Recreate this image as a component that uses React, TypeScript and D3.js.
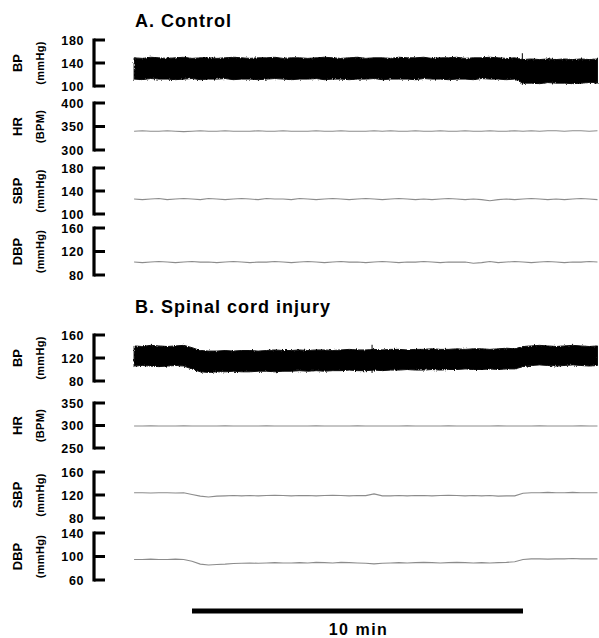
import React from "react";
import * as d3 from "d3";

// ---------- DATA ----------
// Samples every 0.25 min, starting 1.75 min before the 10-min period.
const SAMPLE_START = -1.75;
const SAMPLE_STEP = 0.25;

// Panel A (Control)
const aBpHi = [149,148,150,149,148,149,150,148,149,149, 148,149,150,149,148,149,149,150,148,149, 149,148,149,150,149,148,149,150,148,149, 149,148,150,149,149,150,148,149,149,150, 148,149,149,150,149,148,149, 146,147,146,147,146,147,146,147,146,147];
const aBpLo = [112,111,113,112,112,111,112,113,111,112, 112,113,111,112,112,111,112,113,112,111, 112,112,113,111,112,112,111,112,112,113, 111,112,112,112,111,113,112,112,111,112, 112,111,113,112,112,111,112, 105,105,104,106,105,105,104,105,106,105];
const aHr = [340,341,340,340,341,340,339,340,341,340, 340,341,340,340,340,341,340,340,341,340, 340,340,341,340,340,341,340,340,340,341, 340,341,340,340,341,340,340,341,340,340, 341,340,340,341,340,340,341,340,341,340, 341,341,340,341,341,340,341];
const aSbp = [126,125,126,127,125,126,127,126,125,127, 126,125,126,127,126,125,127,126,126,125, 127,126,125,126,127,126,125,126,127,126, 125,126,127,126,125,126,125,126,127,126, 125,126,125,123,125,126,125,126,127,126, 125,126,125,126,127,126,125];
const aDbp = [102,101,102,103,102,101,102,103,102,102, 101,102,103,102,101,102,102,103,102,101, 102,103,102,101,102,103,102,102,101,102, 103,102,101,102,102,103,102,101,102,102, 102,100,101,103,101,102,103,102,101,102, 103,102,101,102,102,103,102];
const aSpike = { t: 9.98, hi: 157, lo: 102 };

// Panel B (Spinal cord injury)
const bBpHi = [141,140,142,141,140,141,142, 138,133,132,132,133,132,133,133,132,133, 134,133,133,134,133,134,134,133,134,135, 134,134,135,134,135,135,134,135,135,136, 135,135,136,135,136,136,135,136,137,136, 140,141,142,141,140,141,142,141,140,141];
const bBpLo = [106,107,106,105,106,107,106, 101,96,95,96,96,97,96,96,97,97, 96,97,97,98,97,98,97,98,98,99, 98,98,99,98,99,99,100,99,99,100, 99,100,100,101,100,100,101,100,101,101, 105,107,108,107,106,107,108,107,106,107];
const bHr = [299,299,299.5,299,299,299,299.5,299,299,299, 299,299.5,299,299,299,299,299.5,299,299,299, 299,299,299.5,299,299,299,299,299.5,299,299, 299,299,299,299.5,299,299,299,299,299.5,299, 299,299,299,299,299.5,299,299,299,299,299.5, 299,299,299,299,299.5,299,299];
const bSbp = [124,124,123.5,124,124,123.5,124, 121,118,116.5,118,118.5,119,118.5,119,118.5,119, 119.5,119,118.5,119,119,118.5,119,119.5,119,118.5, 119,119,122,118.5,118.5,119,118.5,119,119,118.5, 119,119.5,119,118.5,119,118.5,119,118,118.5,118.5, 123,124,124,124.5,124,124,124.5,124,124,124];
const bDbp = [95,95,95.5,95,95,95.5,95, 92,87,85.5,86.5,87,88,88.5,89,88.5,89, 89.5,89,89,89.5,89,90,89.5,89,90,89.5, 89,88.5,87.5,88.5,89,89.5,89,89.5,90,89.5, 89,89.5,90,89.5,89,89.5,89,89.5,90,91, 95,96,96,95.5,96,96,96.5,96,96,96];
const bSpike = { t: 5.44, hi: 143, lo: 94 };

// Axis definitions
const panelTitles = ["A. Control", "B. Spinal cord injury"];
const trackNames = ["BP", "HR", "SBP", "DBP"];
const trackUnits = ["(mmHg)", "(BPM)", "(mmHg)", "(mmHg)"];
const aTicks = [[100, 140, 180], [300, 350, 400], [100, 140, 180], [80, 120, 160]];
const bTicks = [[80, 120, 160], [250, 300, 350], [80, 120, 160], [60, 100, 140]];
const scaleBarMinutes = [0, 10];
const scaleBarLabel = "10 min";

// ---------- LAYOUT ----------
const W = 599;
const H = 638;
const FONT = "'Liberation Sans', Arial, Helvetica, sans-serif";
const aTrackPx = [[40, 86], [103, 150], [168, 214], [228, 275]];
const bTrackPx = [[335, 381], [403, 448], [472, 518], [533, 580]];
const titleY = [27, 313];

const x = d3.scaleLinear().domain([0, 10]).range([192, 523]);
const times = (n: number) => d3.range(n).map((i) => SAMPLE_START + i * SAMPLE_STEP);

type Track = {
  name: string;
  unit: string;
  ticks: number[];
  px: number[];
  line?: number[];
  hi?: number[];
  lo?: number[];
  spike?: { t: number; hi: number; lo: number };
};

const panels: Track[][] = [
  [
    { name: trackNames[0], unit: trackUnits[0], ticks: aTicks[0], px: aTrackPx[0], hi: aBpHi, lo: aBpLo, spike: aSpike },
    { name: trackNames[1], unit: trackUnits[1], ticks: aTicks[1], px: aTrackPx[1], line: aHr },
    { name: trackNames[2], unit: trackUnits[2], ticks: aTicks[2], px: aTrackPx[2], line: aSbp },
    { name: trackNames[3], unit: trackUnits[3], ticks: aTicks[3], px: aTrackPx[3], line: aDbp },
  ],
  [
    { name: trackNames[0], unit: trackUnits[0], ticks: bTicks[0], px: bTrackPx[0], hi: bBpHi, lo: bBpLo, spike: bSpike },
    { name: trackNames[1], unit: trackUnits[1], ticks: bTicks[1], px: bTrackPx[1], line: bHr },
    { name: trackNames[2], unit: trackUnits[2], ticks: bTicks[2], px: bTrackPx[2], line: bSbp },
    { name: trackNames[3], unit: trackUnits[3], ticks: bTicks[3], px: bTrackPx[3], line: bDbp },
  ],
];

function TrackView({ tr }: { tr: Track }) {
  const y = d3
    .scaleLinear()
    .domain([tr.ticks[0], tr.ticks[tr.ticks.length - 1]])
    .range([tr.px[1], tr.px[0]]);
  const axisX = 94;
  const tickEnd = 105;
  const cy = (tr.px[0] + tr.px[1]) / 2;
  let mark: React.ReactNode = null;
  if (tr.hi && tr.lo) {
    const ts = times(tr.hi.length);
    const lo = tr.lo;
    const area = d3
      .area<number>()
      .x((_, i) => x(ts[i]))
      .y0((_, i) => y(lo[i]))
      .y1((d) => y(d));
    mark = (
      <g>
        <path d={area(tr.hi) || ""} fill="#000" stroke="#111" strokeWidth={1} strokeLinejoin="round" filter="url(#fuzz)" />
        {tr.spike && (
          <line x1={x(tr.spike.t)} x2={x(tr.spike.t)} y1={y(tr.spike.hi)} y2={y(tr.spike.lo)} stroke="#000" strokeWidth={1} />
        )}
      </g>
    );
  } else if (tr.line) {
    const ts = times(tr.line.length);
    const line = d3
      .line<number>()
      .x((_, i) => x(ts[i]))
      .y((d) => y(d));
    mark = <path d={line(tr.line) || ""} fill="none" stroke="#8c8c8c" strokeWidth={1.1} />;
  }
  return (
    <g>
      <line x1={axisX} x2={axisX} y1={y(tr.ticks[tr.ticks.length - 1]) - 1.5} y2={y(tr.ticks[0]) + 1.5} stroke="#000" strokeWidth={3.2} />
      {tr.ticks.map((t) => (
        <g key={t}>
          <line x1={axisX} x2={tickEnd} y1={y(t)} y2={y(t)} stroke="#000" strokeWidth={3} />
          <text x={84} y={y(t)} dy="0.36em" textAnchor="end" fontSize={12.5} fontWeight="bold" letterSpacing={0.6} fontFamily={FONT}>
            {t}
          </text>
        </g>
      ))}
      <text transform={`translate(22,${cy}) rotate(-90)`} textAnchor="middle" fontSize={13} fontWeight="bold" fontFamily={FONT}>
        {tr.name}
      </text>
      <text transform={`translate(44,${cy}) rotate(-90)`} textAnchor="middle" fontSize={11} fontWeight="bold" letterSpacing={0.3} fontFamily={FONT}>
        {tr.unit}
      </text>
      {mark}
    </g>
  );
}

export default function App() {
  return (
    <div style={{ position: "absolute", left: 0, top: 0 }}>
      <svg width={W} height={H} viewBox={`0 0 ${W} ${H}`} style={{ display: "block", background: "#fff" }}>
        <defs>
          <filter id="fuzz" x="-2%" y="-30%" width="104%" height="160%">
            <feTurbulence type="fractalNoise" baseFrequency="1.1 0.35" numOctaves={1} seed={3} result="noise" />
            <feDisplacementMap in="SourceGraphic" in2="noise" scale={3} xChannelSelector="R" yChannelSelector="G" />
          </filter>
        </defs>
        {panels.map((tracks, p) => (
          <g key={p}>
            <text x={135} y={titleY[p]} fontSize={18} fontWeight="bold" letterSpacing={1} fontFamily={FONT}>
              {panelTitles[p]}
            </text>
            {tracks.map((tr, i) => (
              <TrackView key={i} tr={tr} />
            ))}
          </g>
        ))}
        <line x1={x(scaleBarMinutes[0])} x2={x(scaleBarMinutes[1])} y1={611} y2={611} stroke="#000" strokeWidth={5} />
        <text
          x={(x(scaleBarMinutes[0]) + x(scaleBarMinutes[1])) / 2 + 1}
          y={635}
          textAnchor="middle"
          fontSize={16}
          fontWeight="bold"
          letterSpacing={1.5}
          fontFamily={FONT}
        >
          {scaleBarLabel}
        </text>
      </svg>
    </div>
  );
}
